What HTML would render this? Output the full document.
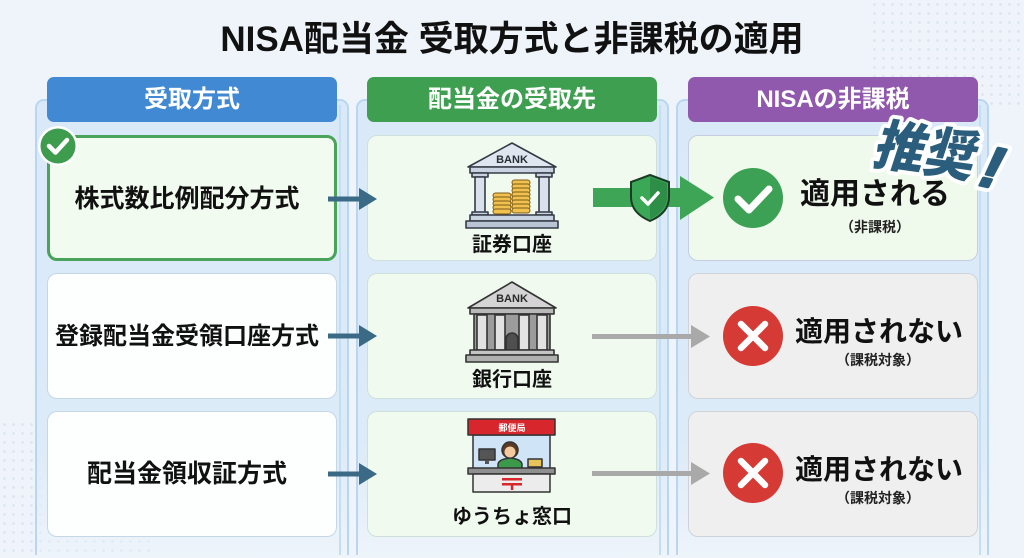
<!DOCTYPE html>
<html><head><meta charset="utf-8">
<style>
*{margin:0;padding:0;box-sizing:border-box}
html,body{width:1024px;height:558px;overflow:hidden}
body{background:#eef4fa;font-family:"Liberation Sans","Noto Sans CJK JP",sans-serif;position:relative}
.abs{position:absolute}
.dots1{left:870px;top:0;width:154px;height:110px;background-image:radial-gradient(#d6e2ee 1.2px,transparent 1.6px);background-size:9px 9px;opacity:.8}
.dots2{left:0;top:420px;width:150px;height:138px;background-image:radial-gradient(#d6e2ee 1.2px,transparent 1.6px);background-size:9px 9px;opacity:.8}
.title{left:0;top:18px;width:1024px;text-align:center;font-size:35px;font-weight:700;color:#111;line-height:44px;letter-spacing:0}
.panel{top:99px;height:456px;border:2px solid #b8d6f1;border-bottom:none;border-radius:9px 9px 0 0;background:linear-gradient(#d9e9f8 0%,#dcebf8 75%,rgba(236,243,250,0.4) 100%)}
.panel::after{content:"";position:absolute;right:6px;top:4px;bottom:0;width:2px;background:#c6def4}
.hdr{top:77px;height:45px;border-radius:7px;color:#fff;font-size:24px;font-weight:700;text-align:center;line-height:45px}
.card{height:126px;border-radius:10px}
.c1{left:47px;width:290px}
.c2{left:367px;width:290px}
.c3{left:688px;width:290px}
.white{background:#fdfefe;border:1.5px solid #c5d7e6}
.lg{background:#f0faee;border:1.5px solid #cfe0dc}
.gr{background:#efefef;border:1.5px solid #cfd3d8}
.t1{font-size:25px;font-weight:700;color:#111;width:290px;text-align:center;line-height:30px;left:42px;white-space:nowrap}
.lab{font-size:20px;font-weight:700;color:#111;text-align:center;width:200px;left:412px;line-height:24px}
.big{font-weight:700;color:#111;line-height:34px;white-space:nowrap}
.sm{font-size:14px;font-weight:700;color:#222;line-height:18px;white-space:nowrap}
</style></head><body>
<div class="abs dots1"></div>
<div class="abs dots2"></div>

<div class="abs title">NISA配当金 受取方式と非課税の適用</div>

<div class="abs panel" style="left:35px;width:314px"></div>
<div class="abs panel" style="left:356px;width:313px"></div>
<div class="abs panel" style="left:676px;width:313px"></div>

<div class="abs hdr" style="left:47px;width:290px;background:#4189d2">受取方式</div>
<div class="abs hdr" style="left:367px;width:290px;background:#3f9f50">配当金の受取先</div>
<div class="abs hdr" style="left:688px;width:290px;background:#9059ad">NISAの非課税</div>

<!-- column 1 cards -->
<div class="abs card c1" style="top:135px;background:#f1fbef;border:3px solid #49a45a"></div>
<div class="abs card c1 white" style="top:273px"></div>
<div class="abs card c1 white" style="top:411px"></div>
<!-- column 2 cards -->
<div class="abs card c2 lg" style="top:135px"></div>
<div class="abs card c2 lg" style="top:273px"></div>
<div class="abs card c2 lg" style="top:411px"></div>
<!-- column 3 cards -->
<div class="abs card c3" style="top:135px;background:#effaec;border:1.5px solid #c6cde0"></div>
<div class="abs card c3 gr" style="top:273px"></div>
<div class="abs card c3 gr" style="top:411px"></div>

<div class="abs t1" style="top:184px">株式数比例配分方式</div>
<div class="abs t1" style="top:322px;font-size:24px">登録配当金受領口座方式</div>
<div class="abs t1" style="top:459px">配当金領収証方式</div>

<div class="abs lab" style="top:233px">証券口座</div>
<div class="abs lab" style="top:368px">銀行口座</div>
<div class="abs lab" style="top:505px">ゆうちょ窓口</div>

<div class="abs big" style="left:800px;top:178px;font-size:30px">適用される</div>
<div class="abs sm" style="left:840px;top:218px">（非課税）</div>
<div class="abs big" style="left:795px;top:315px;font-size:28px">適用されない</div>
<div class="abs sm" style="left:836px;top:351px">（課税対象）</div>
<div class="abs big" style="left:795px;top:453px;font-size:28px">適用されない</div>
<div class="abs sm" style="left:836px;top:489px">（課税対象）</div>

<svg class="abs" style="left:0;top:0" width="1024" height="558" viewBox="0 0 1024 558">
  <!-- check badge -->
  <circle cx="58" cy="146" r="20" fill="#fff"/>
  <circle cx="58" cy="146" r="17.5" fill="#3d9c4e"/>
  <path d="M49,146 L55.5,152.5 L67,140" fill="none" stroke="#fff" stroke-width="4.5" stroke-linecap="round" stroke-linejoin="round"/>

  <!-- dark arrows col1->col2 -->
  <g fill="#3a6a86">
    <rect x="328" y="196.5" width="34" height="5"/>
    <polygon points="359,188 377,199 359,210"/>
    <rect x="328" y="333.5" width="34" height="5"/>
    <polygon points="359,325 377,336 359,347"/>
    <rect x="328" y="471.5" width="34" height="5"/>
    <polygon points="359,463 377,474 359,485"/>
  </g>

  <!-- Bank 1 (securities) -->
  <g stroke="#353b46" stroke-width="1.6" stroke-linejoin="round">
    <polygon points="468,167 512,143 556,167" fill="#dfe6f0"/>
    <rect x="470" y="167" width="84" height="6" fill="#c8d2e0"/>
    <rect x="472" y="173" width="16" height="4" fill="#c8d2e0"/>
    <rect x="475" y="177" width="10" height="36" fill="#d9e1ec"/>
    <rect x="472" y="212" width="16" height="3" fill="#c8d2e0"/>
    <rect x="536" y="173" width="16" height="4" fill="#c8d2e0"/>
    <rect x="539" y="177" width="10" height="36" fill="#d9e1ec"/>
    <rect x="536" y="212" width="16" height="3" fill="#c8d2e0"/>
    <rect x="470" y="215" width="84" height="6" fill="#c8d2e0"/>
    <rect x="466" y="221" width="92" height="7" fill="#b9c4d4"/>
  </g>
  <text x="512" y="163" text-anchor="middle" font-size="11" font-weight="700" fill="#2b2f36" font-family="Liberation Sans, sans-serif">BANK</text>
  <g fill="#f0c14f" stroke="#7a5a18" stroke-width="1">
    <rect x="493" y="193" width="18" height="5" rx="2.5"/>
    <rect x="493" y="197" width="18" height="5" rx="2.5"/>
    <rect x="493" y="201" width="18" height="5" rx="2.5"/>
    <rect x="493" y="205" width="18" height="5" rx="2.5"/>
    <rect x="493" y="209" width="18" height="5" rx="2.5"/>
    <rect x="512" y="180" width="18" height="5" rx="2.5"/>
    <rect x="512" y="184" width="18" height="5" rx="2.5"/>
    <rect x="512" y="188" width="18" height="5" rx="2.5"/>
    <rect x="512" y="192" width="18" height="5" rx="2.5"/>
    <rect x="512" y="196" width="18" height="5" rx="2.5"/>
    <rect x="512" y="200" width="18" height="5" rx="2.5"/>
    <rect x="512" y="204" width="18" height="5" rx="2.5"/>
    <rect x="512" y="208" width="18" height="5" rx="2.5"/>
  </g>

  <!-- Bank 2 (gray) -->
  <g stroke="#333" stroke-width="1.6" stroke-linejoin="round">
    <polygon points="468,308 512,282 556,308" fill="#d4d4d4"/>
    <rect x="470" y="308" width="84" height="6" fill="#b9b9b9"/>
    <rect x="474" y="314" width="76" height="36" fill="#9c9c9c"/>
    <rect x="477" y="315" width="10" height="35" fill="#e2e2e2"/>
    <rect x="495" y="315" width="10" height="35" fill="#e2e2e2"/>
    <rect x="519" y="315" width="10" height="35" fill="#e2e2e2"/>
    <rect x="537" y="315" width="10" height="35" fill="#e2e2e2"/>
    <path d="M506,350 L506,339 A6,6 0 0 1 518,339 L518,350 Z" fill="#4f4f4f"/>
    <rect x="470" y="350" width="84" height="5" fill="#c4c4c4"/>
    <rect x="466" y="355" width="92" height="7" fill="#b0b0b0"/>
  </g>
  <text x="512" y="302" text-anchor="middle" font-size="11" font-weight="700" fill="#2b2b2b" font-family="Liberation Sans, sans-serif">BANK</text>

  <!-- Post office -->
  <g stroke="#333" stroke-width="1.5" stroke-linejoin="round">
    <rect x="473" y="435" width="77" height="34" fill="#cfe4f6"/>
    <rect x="468" y="419" width="87" height="16" fill="#d7262c"/>
    <rect x="479" y="449" width="16" height="11" fill="#555"/>
    <rect x="485" y="460" width="4" height="4" fill="#555" stroke="none"/>
    <path d="M498,469 L498,464 Q499,459 510,458 Q521,459 522,464 L522,469 Z" fill="#3a9a4a"/>
    <circle cx="510" cy="450" r="8" fill="#5a3a22"/>
    <circle cx="510" cy="452" r="5.5" fill="#f3c9a0" stroke="none"/>
    <rect x="528" y="459" width="14" height="8" fill="#e8c35a"/>
    <rect x="468" y="468" width="87" height="6" fill="#8f8f8f"/>
    <rect x="473" y="474" width="77" height="18" fill="#ececec"/>
  </g>
  <text x="512" y="431" text-anchor="middle" font-size="9" font-weight="700" fill="#fff" font-family="Noto Sans CJK JP, sans-serif">郵便局</text>
  <g fill="#d7262c">
    <rect x="502" y="478" width="20" height="2.5"/>
    <rect x="502" y="483" width="20" height="2.5"/>
    <rect x="510.8" y="483" width="2.5" height="7"/>
  </g>

  <!-- green arrow + shield -->
  <rect x="593" y="188" width="90" height="19" fill="#3da555"/>
  <polygon points="680,176 714,197.5 680,220" fill="#3da555"/>
  <path d="M650,175 L669,182 L669,197 Q669,213 650,221 Q631,213 631,197 L631,182 Z" fill="#3aa856" stroke="#1c3b24" stroke-width="2"/>
  <path d="M650,177 L667,183.5 L667,197 Q667,211 650,219 Z" fill="#2e8e47"/>
  <path d="M642,198 L648,204 L658,193" fill="none" stroke="#fff" stroke-width="3.5" stroke-linecap="round" stroke-linejoin="round"/>

  <!-- green check circle -->
  <circle cx="753" cy="198" r="30" fill="#3ca154"/>
  <path d="M738,199 L749,210 L769,189" fill="none" stroke="#fff" stroke-width="7" stroke-linecap="round" stroke-linejoin="round"/>

  <!-- gray arrows -->
  <g fill="#a9a9a9">
    <rect x="592" y="334" width="102" height="5"/>
    <polygon points="691,325 710,336.5 691,348"/>
    <rect x="592" y="471" width="102" height="5"/>
    <polygon points="691,462 710,473.5 691,485"/>
  </g>

  <!-- red X circles -->
  <circle cx="753" cy="336" r="30" fill="#d63a35"/>
  <path d="M741,324 L765,348 M765,324 L741,348" stroke="#fff" stroke-width="6.5" stroke-linecap="round"/>
  <circle cx="753" cy="473" r="30" fill="#d63a35"/>
  <path d="M741,461 L765,485 M765,461 L741,485" stroke="#fff" stroke-width="6.5" stroke-linecap="round"/>

  <!-- 推奨! -->
  <g transform="translate(871,163) rotate(8) skewX(-10) scale(0.92,1)">
    <text x="0" y="0" font-size="55" font-weight="900" fill="#2b5e7c" stroke="#fff" stroke-width="8" stroke-linejoin="round" paint-order="stroke" font-family="Noto Sans CJK JP, sans-serif">推奨</text>
  </g>
  <g transform="translate(984,186) rotate(12) skewX(-14)">
    <text x="0" y="0" text-anchor="middle" font-size="58" font-weight="700" fill="none" stroke="#fff" stroke-width="11" stroke-linejoin="round" font-family="Liberation Sans, sans-serif">!</text>
    <text x="0" y="0" text-anchor="middle" font-size="58" font-weight="700" fill="#2b5e7c" stroke="#2b5e7c" stroke-width="3" stroke-linejoin="round" font-family="Liberation Sans, sans-serif">!</text>
  </g>
</svg>
</body></html>
